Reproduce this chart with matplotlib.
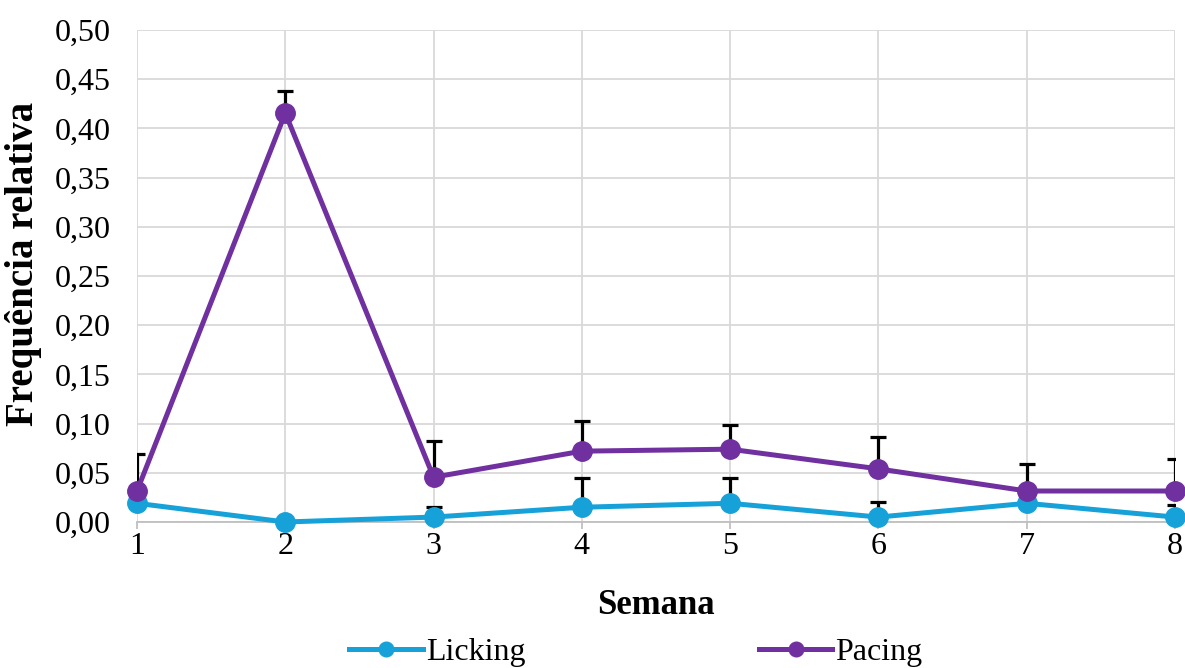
import matplotlib
matplotlib.use("Agg")
import matplotlib.pyplot as plt

semanas = [1, 2, 3, 4, 5, 6, 7, 8]
licking = [0.019, 0.000, 0.005, 0.015, 0.019, 0.005, 0.019, 0.005]
licking_err = [0.010, 0.000, 0.010, 0.030, 0.026, 0.015, 0.010, 0.012]
pacing = [0.0315, 0.4155, 0.0455, 0.072, 0.074, 0.054, 0.0315, 0.0315]
pacing_err = [0.038, 0.023, 0.037, 0.031, 0.025, 0.032, 0.027, 0.033]
yticks = [0.00, 0.05, 0.10, 0.15, 0.20, 0.25, 0.30, 0.35, 0.40, 0.45, 0.50]

plt.rcParams['font.family'] = ['Liberation Serif', 'DejaVu Serif']

fig = plt.figure(figsize=(11.85, 6.68), dpi=100)
ax = fig.add_axes([137/1185, 1 - 522/668, (1175-137)/1185, (522-30)/668])

c_lick = '#16A2D9'
c_pace = '#7030A0'

for y, e in ((licking, licking_err), (pacing, pacing_err)):
    ax.errorbar(semanas, y, yerr=[[0]*len(e), e], fmt='none', ecolor='black',
                elinewidth=2.3, capsize=6, capthick=2.3, zorder=2)

ax.plot(semanas, licking, color=c_lick, lw=3.6, marker='o', ms=14,
        label='Licking', clip_on=False, zorder=3)
ax.plot(semanas, pacing, color=c_pace, lw=3.6, marker='o', ms=14,
        label='Pacing', clip_on=False, zorder=4)

ax.set_xlim(1, 8)
ax.set_ylim(0, 0.5)
ax.set_xticks(semanas)
ax.set_yticks(yticks)
ax.set_yticklabels([f"{v:.2f}".replace('.', ',') for v in yticks])
ax.grid(True, color='#D9D9D9', lw=1.3)
ax.set_axisbelow(True)
for s in ('top', 'right', 'left'):
    ax.spines[s].set_visible(False)
ax.spines['bottom'].set_color('#BFBFBF')
ax.spines['bottom'].set_linewidth(1.3)
ax.tick_params(axis='y', length=0, labelsize=23, pad=19)
ax.tick_params(axis='x', length=5, color='#BFBFBF', width=1.3, labelsize=23, pad=2)

ax.set_xlabel('Semana', fontsize=25, fontweight='bold', va='center')
ax.xaxis.set_label_coords(0.5, (522 - 606) / 492)
ax.set_ylabel('Frequência relativa', fontsize=28, fontweight='bold', va='center')
ax.yaxis.set_label_coords((24 - 137) / 1038, (522 - 264) / 492)

fig.legend(loc='center', bbox_to_anchor=(636/1185, 1 - 652/668), ncol=2,
           frameon=False, fontsize=23, handlelength=2.3, handletextpad=0.1,
           columnspacing=7.3, markerscale=0.75, borderpad=0)

fig.savefig('out.png', dpi=100)
